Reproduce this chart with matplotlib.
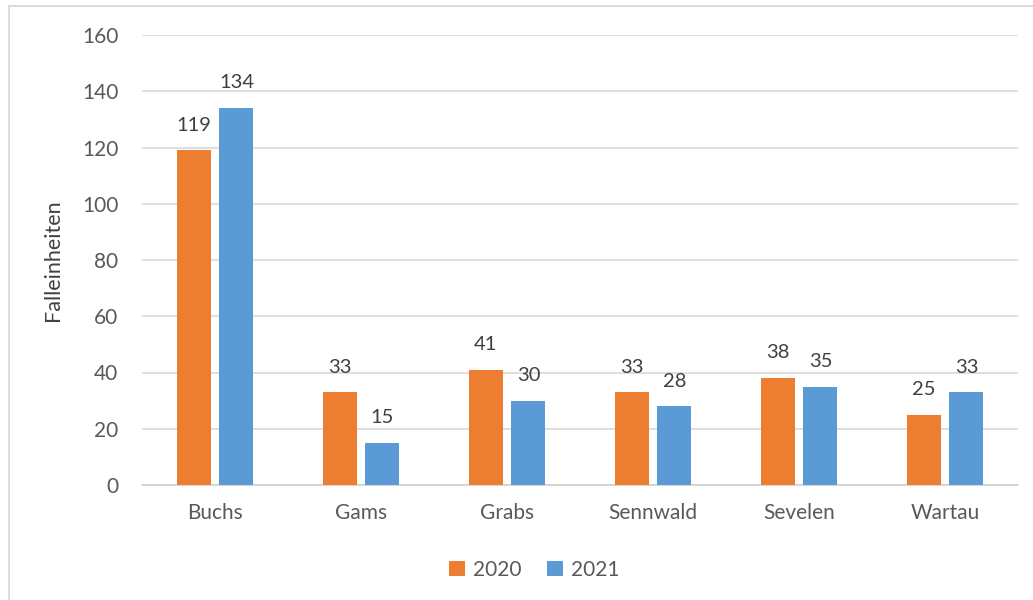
import numpy as np
import matplotlib
matplotlib.use("Agg")
import matplotlib.pyplot as plt
from matplotlib.patches import Rectangle

# data
gemeinden = ["Buchs", "Gams", "Grabs", "Sennwald", "Sevelen", "Wartau"]
werte_2020 = [119, 33, 41, 33, 38, 25]
werte_2021 = [134, 15, 30, 28, 35, 33]
y_ticks = [0, 20, 40, 60, 80, 100, 120, 140, 160]

orange = "#ED7D31"
blau = "#5B9BD5"
text_grau = "#595959"

plt.rcParams["font.family"] = ["Lato", "DejaVu Sans"]

fig = plt.figure(figsize=(10.33, 6), dpi=100)
ax = fig.add_axes([142 / 1033, 115 / 600, 876 / 1033, 450 / 600])

# light frame around the chart area (as in the original)
fig.patches.append(Rectangle((8.5 / 1033, -0.1), 1.2, (594.5 / 600) + 0.1,
                             transform=fig.transFigure, fill=False,
                             edgecolor="#D9D9D9", linewidth=1.3))

x = np.arange(len(gemeinden))
breite = 0.233
versatz = 0.147

b1 = ax.bar(x - versatz, werte_2020, breite, color=orange, label="2020", zorder=3)
b2 = ax.bar(x + versatz, werte_2021, breite, color=blau, label="2021", zorder=3)

for bars in (b1, b2):
    for rect in bars:
        h = rect.get_height()
        ax.annotate(f"{h:.0f}", (rect.get_x() + rect.get_width() / 2, h),
                    xytext=(0, 12), textcoords="offset points",
                    ha="center", va="bottom", fontsize=14.5, color="#404040")

ax.set_xlim(-0.5, len(gemeinden) - 0.5)
ax.set_ylim(0, 160)
ax.set_yticks(y_ticks)
ax.set_xticks(x)
ax.set_xticklabels(gemeinden)
ax.tick_params(axis="both", length=0, labelsize=15, labelcolor=text_grau)
ax.tick_params(axis="y", pad=17)
ax.tick_params(axis="x", pad=13)

ax.grid(axis="y", color="#D9D9D9", linewidth=1.2, zorder=0)
for s in ("top", "right", "left"):
    ax.spines[s].set_visible(False)
ax.spines["bottom"].set_color("#D0D0D0")
ax.spines["bottom"].set_linewidth(1.2)

ax.set_ylabel("Falleinheiten", fontsize=15.5, color="#404040", labelpad=14)

ax.legend(loc="upper center", bbox_to_anchor=(0.448, -0.125), ncol=2, frameon=False,
          fontsize=15, handlelength=0.75, handleheight=0.75, handletextpad=0.4,
          columnspacing=1.2, labelcolor=text_grau)

fig.savefig("out.png", dpi=100)
